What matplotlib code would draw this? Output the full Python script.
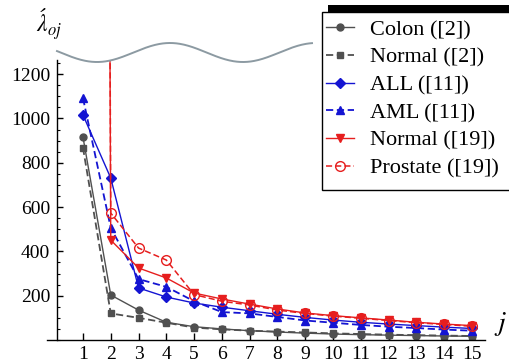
import numpy as np
import matplotlib
matplotlib.use('Agg')
import matplotlib.pyplot as plt
from matplotlib.lines import Line2D
from matplotlib.patches import Rectangle
from matplotlib.ticker import MultipleLocator

serif = ['Liberation Serif', 'Tinos', 'DejaVu Serif']
plt.rcParams['font.family'] = serif
plt.rcParams['mathtext.fontset'] = 'stix'

# eigenvalue index
j = list(range(1, 16))

# values (j=1 of the [19] data set is far above the plot)
colon2 = [916, 203, 135, 80, 60, 50, 42, 36, 31, 27, 24, 22, 20, 18, 17]
normal2 = [868, 120, 100, 78, 56, 48, 42, 38, 34, 30, 27, 24, 22, 20, 18]
all11 = [1016, 731, 235, 194, 167, 148, 132, 116, 102, 90, 80, 72, 65, 58, 52]
aml11 = [1092, 506, 275, 240, 175, 126, 120, 104, 88, 78, 68, 60, 54, 47, 42]
normal19 = [30000, 451, 325, 280, 212, 185, 162, 140, 122, 110, 100, 90, 80, 72, 65]
prostate19 = [30000, 573, 415, 361, 205, 175, 158, 135, 120, 108, 98, 88, 78, 70, 62]

labels = ['Colon ([2])', 'Normal ([2])', 'ALL ([11])', 'AML ([11])',
          'Normal ([19])', 'Prostate ([19])']

W, H = 510, 363
fig = plt.figure(figsize=(W / 100, H / 100), dpi=100)

def fx(px):
    return px / W

def fy(py):
    return 1 - py / H

ax = fig.add_axes([fx(47), fy(340), fx(485) - fx(47), fy(60) - fy(340)])

gray = '#505050'
blue = '#1414d2'
red = '#e61e1e'
dash = (0, (4, 2))

ax.plot(j, colon2, color=gray, lw=1, marker='o', ms=5, label=labels[0])
ax.plot(j, normal2, color=gray, lw=1.3, ls=dash, marker='s', ms=5, label=labels[1])
ax.plot(j, all11, color=blue, lw=1, marker='D', ms=5, label=labels[2])
ax.plot(j, aml11, color=blue, lw=1.3, ls=dash, marker='^', ms=6, label=labels[3])
ax.plot(j, normal19, color=red, lw=1, marker='v', ms=6, label=labels[4])
ax.plot(j, prostate19, color=red, lw=1.1, ls=dash, marker='o', ms=7,
        mfc='none', mec=red, mew=1, label=labels[5])

ax.set_xlim(-0.295, 15.47)
ax.set_ylim(0, 1264)
ax.set_xticks(j)
ax.set_yticks([200, 400, 600, 800, 1000, 1200])
ax.yaxis.set_minor_locator(MultipleLocator(50))

for s in ['top', 'right']:
    ax.spines[s].set_visible(False)
ax.spines['left'].set_position(('data', 0.064))
ax.spines['left'].set_linewidth(1)
ax.spines['bottom'].set_linewidth(1)

ax.tick_params(axis='x', direction='in', length=5, width=1, pad=4, labelsize=14)
ax.tick_params(axis='y', which='major', direction='in', length=4, width=1, pad=5, labelsize=14)
ax.tick_params(axis='y', which='minor', direction='in', length=2.5, width=0.8)
for lbl in ax.get_xticklabels() + ax.get_yticklabels():
    lbl.set_fontfamily(serif)

# axis names
fig.text(fx(36), fy(6), r'$\acute{\lambda}_{oj}$', fontsize=17, ha='left', va='top')
fig.text(fx(494), fy(324), r'$j$', fontsize=20, ha='left', va='center')

# wavy axis break at the top
xs = np.linspace(57, 312, 300)
ys = 52.5 + 9.5 * np.cos(2 * np.pi * (xs - 97) / 146)
fig.add_artist(Line2D(fx(xs), fy(ys), color='#8c9aa2', lw=1.4))

# legend box with its shadow
fig.add_artist(Rectangle((fx(328), fy(185)), fx(200), fy(5) - fy(185),
                         facecolor='black', edgecolor='none', zorder=3))
fig.add_artist(Rectangle((fx(322), fy(190)), fx(200), fy(12) - fy(190),
                         facecolor='white', edgecolor='black', lw=1, zorder=4))
leg = fig.legend(loc='upper left', bbox_to_anchor=(fx(320), fy(14)),
                 frameon=False, prop={'family': serif, 'size': 16},
                 handlelength=1.3, handletextpad=0.7, labelspacing=0.32,
                 borderaxespad=0, borderpad=0.25)
leg.set_zorder(5)

fig.savefig('out.png', dpi=100)
